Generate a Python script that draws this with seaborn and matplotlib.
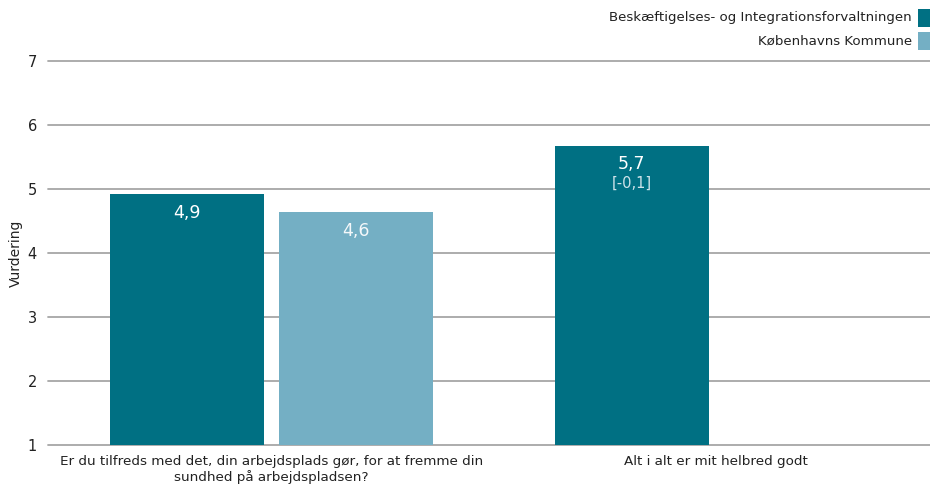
import matplotlib
matplotlib.use("Agg")
import matplotlib.pyplot as plt
import seaborn as sns
import pandas as pd
import numpy as np
from matplotlib.patches import Rectangle

categories = ["Er du tilfreds med det, din arbejdsplads gør, for at fremme din\nsundhed på arbejdspladsen?",
              "Alt i alt er mit helbred godt"]
series = ["Beskæftigelses- og Integrationsforvaltningen", "Københavns Kommune"]
bif_values = [4.92, 5.68]
kk_values = [4.64, None]
bif_labels = ["4,9", "5,7"]
kk_labels = ["4,6", None]
bif_diff = [None, "[-0,1]"]
colors = ["#007083", "#74AFC4"]
yticks = [1, 2, 3, 4, 5, 6, 7]

rows = []
for c, v in zip(categories, bif_values):
    if v is not None:
        rows.append({"cat": c, "serie": series[0], "val": v})
for c, v in zip(categories, kk_values):
    if v is not None:
        rows.append({"cat": c, "serie": series[1], "val": v})
df = pd.DataFrame(rows)

sns.set_style("white")
plt.rcParams["font.family"] = ["DejaVu Sans"]

fig = plt.figure(figsize=(9.3, 4.87), dpi=100)
ax = fig.add_axes([0.0516, 0.0862, 0.9484, 0.7885])

sns.barplot(data=df, x="cat", y="val", hue="serie", order=categories, hue_order=series,
            palette=colors, width=0.760, gap=0.0888, ax=ax, legend=False,
            linewidth=0, saturation=1)

ax.set_ylim(1, 7)
ax.set_xlim(-0.502, 1.480)
ax.set_yticks(yticks)
ax.set_yticklabels([str(t) for t in yticks], fontsize=10.5, color="#222222")
ax.tick_params(axis="y", length=0, pad=8)
ax.tick_params(axis="x", length=0, pad=7, labelsize=9.7, labelcolor="#222222")
ax.set_xlabel("")
ax.set_ylabel("Vurdering", fontsize=10, color="#222222", labelpad=3)
ax.grid(axis="y", color="#a6a6a6", linewidth=1.3)
ax.grid(axis="x", visible=False)
ax.set_axisbelow(True)
for line in ax.get_ygridlines():
    line.set_clip_on(False)
for s in ax.spines.values():
    s.set_visible(False)

# Value labels
conts = ax.containers
for i, bar in enumerate(conts[0]):
    h = bif_values[i]
    if h is None:
        continue
    cx = bar.get_x() + bar.get_width() / 2
    ax.annotate(bif_labels[i], (cx, h), xytext=(0, -13.5), textcoords="offset points",
                ha="center", va="center", color="white", fontsize=12.5)
    if bif_diff[i]:
        ax.annotate(bif_diff[i], (cx, h), xytext=(0, -27.5), textcoords="offset points",
                    ha="center", va="center", color="#cfe3ea", fontsize=10.5)
for i, bar in enumerate(conts[1]):
    h = kk_values[i] if i < len(kk_values) else None
    if h is None:
        continue
    cx = bar.get_x() + bar.get_width() / 2
    ax.annotate(kk_labels[i], (cx, h), xytext=(0, -13.5), textcoords="offset points",
                ha="center", va="center", color="#f4f8fa", fontsize=12.5)

# Legend (right aligned text, swatch on right)
W, H = 930, 487
for j, (name, col) in enumerate(zip(series, colors)):
    yc = 18 + j * 23
    fig.text(912 / W, 1 - yc / H, name, ha="right", va="center", fontsize=9.6, color="#222222")
    fig.patches.append(Rectangle((918 / W, 1 - (yc + 9) / H), 12 / W, 18 / H,
                                 transform=fig.transFigure, facecolor=col, edgecolor="none"))

fig.savefig("out.png", dpi=100)
